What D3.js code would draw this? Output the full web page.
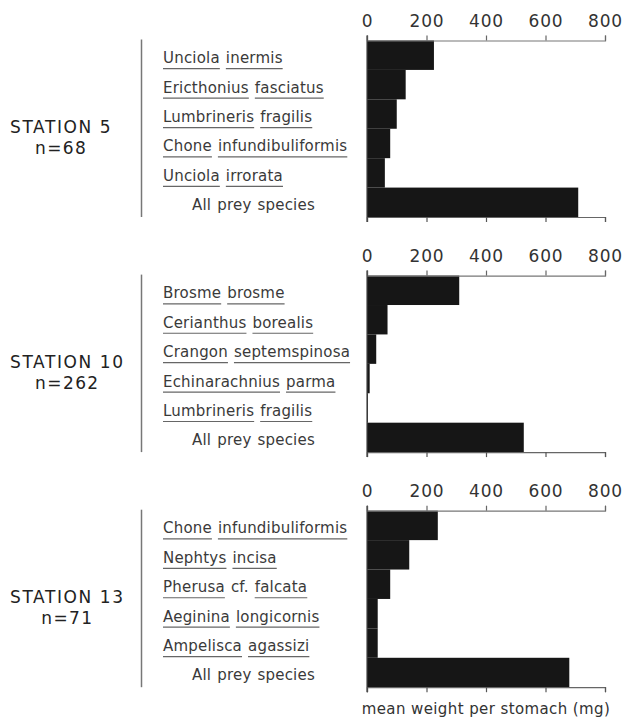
<!DOCTYPE html>
<html><head><meta charset="utf-8">
<script src="https://cdn.jsdelivr.net/npm/d3@7"></script>
<style>body{margin:0;background:#fff}svg{display:block}</style>
</head><body>
<svg id="chart" width="623" height="723"></svg>
<script>
const stations = ["STATION 5", "STATION 10", "STATION 13"];
const sampleSizes = ["n=68", "n=262", "n=71"];
const speciesSt5 = ["Unciola inermis", "Ericthonius fasciatus", "Lumbrineris fragilis", "Chone infundibuliformis", "Unciola irrorata", "All prey species"];
const valuesSt5 = [225, 130, 100, 78, 60, 710];
const speciesSt10 = ["Brosme brosme", "Cerianthus borealis", "Crangon septemspinosa", "Echinarachnius parma", "Lumbrineris fragilis", "All prey species"];
const valuesSt10 = [310, 69, 31, 9, 3, 527];
const speciesSt13 = ["Chone infundibuliformis", "Nephtys incisa", "Pherusa cf. falcata", "Aeginina longicornis", "Ampelisca agassizi", "All prey species"];
const valuesSt13 = [238, 142, 78, 36, 36, 680];
const tickValues = [0, 200, 400, 600, 800];
const axisTitle = "mean weight per stomach (mg)";

const speciesLists = [speciesSt5, speciesSt10, speciesSt13];
const valueLists = [valuesSt5, valuesSt10, valuesSt13];

const svg = d3.select("#chart");
const font = "'DejaVu Sans', sans-serif";
const x = d3.scaleLinear().domain([0, 800]).range([367, 605]);
const panelTop0 = 40.5, panelStep = 235.1, panelH = 176.5;

stations.forEach((st, i) => {
  const top = panelTop0 + i * panelStep;
  const species = speciesLists[i], vals = valueLists[i];
  const y = d3.scaleBand().domain(species).range([top, top + panelH]).padding(0);
  const g = svg.append("g");

  // station label
  const stT = g.append("text").attr("x", 10).attr("y", top + 92)
    .attr("font-family", font).attr("font-size", 17).attr("letter-spacing", 1.6)
    .attr("fill", "#222").text(st);
  const w = stT.node().getComputedTextLength();
  g.append("text").attr("x", 10 + w / 2).attr("y", top + 113)
    .attr("text-anchor", "middle").attr("font-family", font).attr("font-size", 17)
    .attr("letter-spacing", 1.4).attr("fill", "#222").text(sampleSizes[i]);

  // bracket line
  g.append("line").attr("x1", 141.5).attr("x2", 141.5).attr("y1", top - 1).attr("y2", top + panelH)
    .attr("stroke", "#777").attr("stroke-width", 1.5);

  // species labels
  species.forEach((s, j) => {
    const base = y(s) + y.bandwidth() / 2 + 8;
    const isAll = s === "All prey species";
    let cx = isAll ? 192 : 163;
    const words = s.split(" ");
    const spaceW = 6;
    words.forEach(wd => {
      const t = g.append("text").attr("x", cx).attr("y", base)
        .attr("font-family", font).attr("font-size", 15).attr("letter-spacing", 0.2)
        .attr("fill", "#3a3a3a").text(wd);
      const ww = t.node().getComputedTextLength();
      if (!isAll && wd !== "cf.") {
        g.append("line").attr("x1", cx).attr("x2", cx + ww).attr("y1", base + 5.5).attr("y2", base + 5.5)
          .attr("stroke", "#666").attr("stroke-width", 1.2);
      }
      cx += ww + spaceW;
    });
  });

  // bars
  g.selectAll("rect.bar").data(vals).join("rect").attr("class", "bar")
    .attr("x", x(0)).attr("y", (d, j) => y(species[j]))
    .attr("width", d => x(d) - x(0)).attr("height", y.bandwidth())
    .attr("fill", "#161616");

  // top axis
  const ax = g.append("g").attr("transform", `translate(0,${top})`)
    .call(d3.axisTop(x).tickValues(tickValues).tickSize(5).tickPadding(8.5));
  ax.select(".domain").attr("stroke", "#777").attr("stroke-width", 1.2);
  ax.selectAll(".tick line").attr("stroke", "#666").attr("stroke-width", 1.2);
  ax.selectAll(".tick text").attr("font-family", font).attr("font-size", 17)
    .attr("letter-spacing", 0.8).attr("fill", "#333");

  // bottom axis
  const bx = g.append("g").attr("transform", `translate(0,${top + panelH})`)
    .call(d3.axisBottom(x).tickValues(tickValues).tickSize(5).tickSizeOuter(5).tickFormat(""));
  bx.select(".domain").attr("stroke", "#666").attr("stroke-width", 1.2);
  bx.selectAll(".tick line").attr("stroke", "#555").attr("stroke-width", 1.2);

  // left axis line
  g.append("line").attr("x1", x(0)).attr("x2", x(0)).attr("y1", top - 5).attr("y2", top + panelH + 5)
    .attr("stroke", "#444").attr("stroke-width", 1.2);
});

svg.append("text").attr("x", 486).attr("y", 714).attr("text-anchor", "middle")
  .attr("font-family", font).attr("font-size", 15).attr("letter-spacing", 0.4)
  .attr("fill", "#333").text(axisTitle);
</script>
</body></html>
